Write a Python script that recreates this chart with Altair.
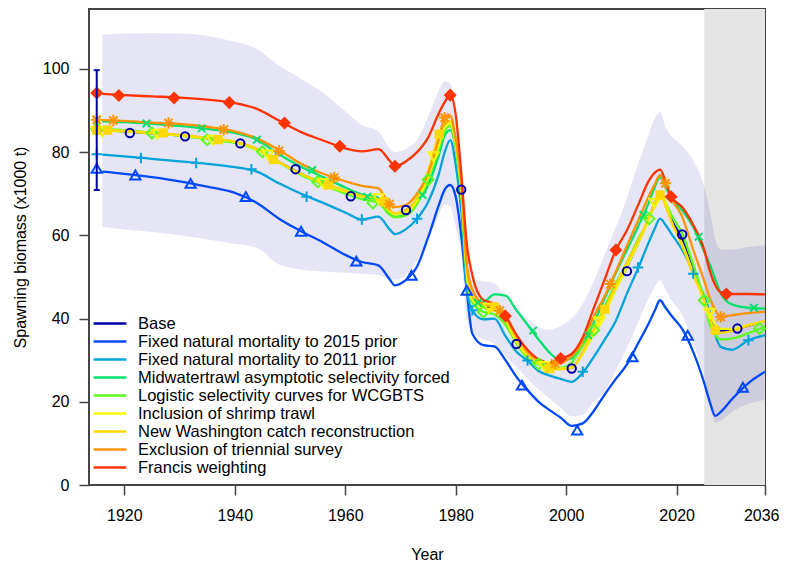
import altair as alt
import pandas as pd

# ---------------- data ----------------
models = ["Base", "Fixed natural mortality to 2015 prior", "Fixed natural mortality to 2011 prior",
          "Midwatertrawl asymptotic selectivity forced", "Logistic selectivity curves for WCGBTS",
          "Inclusion of shrimp trawl", "New Washington catch reconstruction",
          "Exclusion of triennial survey", "Francis weighting"]
colors = ["#0000A6", "#0049FB", "#00A4DB", "#03E06E", "#5DFC20",
          "#F6F905", "#FFD701", "#FF9400", "#FF3300"]

years = [1916, 1920, 1925, 1930, 1935, 1940,
         1944, 1948, 1952, 1956, 1960,
         1963, 1966, 1968, 1969, 1971,
         1973, 1975, 1977, 1978, 1979,
         1980, 1981, 1982, 1983, 1985,
         1987, 1989, 1991, 1993, 1995,
         1997, 1999, 2001, 2003, 2005,
         2007, 2009, 2011, 2013, 2015,
         2016, 2017, 2018, 2019, 2021,
         2023, 2025, 2026, 2027, 2028,
         2030, 2033, 2036]

ssb_base = [85.3, 85.0, 84.5, 84.0, 83.3, 82.4,
            80.7, 77.6, 74.8, 72.5, 70.6,
            69.4, 68.6, 66.0, 65.2, 66.1,
            68.6, 74.6, 83.0, 86.5, 87.2,
            82.5, 71.0, 51.5, 45.0, 42.8,
            42.3, 39.6, 34.4, 31.2, 29.2,
            28.2, 27.9, 28.2, 31.8, 37.0,
            41.9, 47.5, 52.5, 58.2, 64.2,
            67.6, 70.3, 67.6, 64.0, 59.0,
            51.5, 44.3, 40.5, 38.0, 37.0,
            37.3, 38.3, 39.4]
ssb_m2015 = [75.3, 74.8, 74.0, 73.0, 71.7, 70.2,
             67.8, 64.0, 61.0, 58.3, 55.3,
             53.6, 52.8, 49.5, 48.0, 49.3,
             52.5, 59.5, 67.5, 71.0, 72.1,
             69.3, 60.0, 46.8, 36.4, 33.6,
             33.3, 30.0, 26.0, 22.8, 20.0,
             18.0, 16.2, 14.2, 14.8, 17.8,
             21.8, 25.5, 29.0, 34.0, 39.0,
             41.8, 44.4, 42.6, 40.8, 37.5,
             32.0, 24.5, 20.0, 16.6, 17.6,
             20.6, 24.5, 27.2]
ssb_m2011 = [79.4, 79.0, 78.4, 77.8, 77.2, 76.4,
             75.3, 72.5, 70.0, 67.8, 65.5,
             63.8, 64.5, 61.5, 60.3, 61.5,
             64.0, 68.0, 75.0, 80.0, 82.9,
             77.0, 66.0, 47.0, 42.0, 39.8,
             40.0, 35.8, 32.0, 29.9, 27.4,
             26.3, 25.5, 24.8, 27.0, 30.8,
             35.0, 39.5, 46.0, 52.0, 58.5,
             61.5, 64.0, 62.5, 60.5, 56.5,
             51.2, 45.2, 41.5, 36.0, 33.2,
             32.5, 34.8, 36.0]
ssb_mid = [87.4, 87.2, 86.8, 86.3, 85.6, 84.6,
           83.0, 79.5, 76.5, 74.0, 71.5,
           69.8, 69.0, 65.5, 64.5, 65.0,
           68.0, 72.0, 79.5, 84.0, 85.3,
           81.0, 70.0, 51.0, 44.0, 44.0,
           45.8, 45.5, 42.0, 38.5, 35.0,
           31.8, 30.0, 30.4, 34.0, 39.0,
           45.0, 51.0, 56.5, 62.0, 68.0,
           71.5, 74.0, 71.5, 69.0, 66.0,
           62.0, 56.0, 53.0, 49.5, 46.0,
           43.4, 42.6, 42.4]
ssb_logis = [85.6, 85.3, 84.7, 84.0, 83.1, 82.2,
             80.5, 77.5, 74.5, 72.2, 70.0,
             68.7, 67.8, 65.0, 64.3, 64.8,
             67.5, 73.4, 81.0, 85.0, 86.3,
             81.0, 70.0, 50.0, 44.0, 41.6,
             41.0, 38.5, 34.0, 30.5, 29.0,
             28.3, 28.2, 29.5, 33.5, 37.2,
             43.0, 48.5, 53.5, 59.0, 64.0,
             67.5, 70.5, 68.0, 65.0, 60.5,
             53.0, 44.4, 38.5, 36.0, 35.0,
             35.2, 36.5, 38.0]
ssb_shrimp = [85.2, 85.0, 84.5, 84.0, 83.3, 82.4,
              80.6, 77.6, 74.8, 72.5, 70.5,
              69.3, 68.6, 65.8, 65.0, 65.5,
              68.3, 74.0, 82.0, 86.0, 87.0,
              82.0, 71.0, 51.0, 44.5, 42.6,
              42.0, 39.5, 34.5, 31.0, 29.3,
              28.3, 28.0, 28.3, 31.5, 36.5,
              41.5, 47.0, 52.5, 58.0, 64.0,
              67.7, 70.5, 68.0, 63.5, 58.0,
              51.0, 44.0, 41.3, 38.5, 37.5,
              37.5, 38.5, 39.3]
ssb_wash = [85.4, 85.1, 84.7, 84.2, 83.4, 82.5,
            80.8, 77.6, 74.8, 72.6, 70.8,
            69.5, 68.6, 66.2, 65.3, 66.0,
            69.0, 75.5, 84.3, 87.0, 87.5,
            83.0, 71.0, 52.0, 45.5, 43.2,
            42.8, 40.0, 35.0, 31.5, 29.2,
            28.0, 27.8, 28.2, 32.0, 37.5,
            42.2, 48.0, 53.5, 58.5, 64.5,
            67.5, 70.0, 67.0, 63.5, 57.5,
            50.5, 44.4, 40.0, 37.2, 36.6,
            37.0, 38.3, 39.5]
ssb_trien = [87.7, 87.5, 87.1, 86.8, 86.1, 85.0,
             83.3, 80.5, 77.2, 74.8, 73.0,
             71.9, 71.3, 67.5, 66.8, 67.3,
             70.0, 74.8, 83.5, 88.3, 88.8,
             83.0, 73.0, 53.0, 47.0, 43.5,
             42.8, 40.8, 36.0, 32.0, 30.0,
             29.3, 29.3, 31.0, 34.5, 40.5,
             45.5, 51.3, 57.5, 63.5, 69.5,
             72.2, 74.5, 72.5, 69.0, 64.5,
             56.5, 49.0, 45.0, 42.0, 40.4,
             40.8, 41.3, 41.6]
ssb_francis = [94.0, 93.7, 93.4, 93.1, 92.6, 91.8,
               90.4, 87.6, 84.8, 82.8, 80.9,
               80.2, 80.7, 78.0, 76.6, 77.8,
               80.0, 83.5, 89.5, 92.0, 93.7,
               89.0, 75.0, 58.0, 50.5, 44.5,
               43.5, 40.6, 36.0, 32.5, 30.2,
               29.4, 30.4, 31.5, 35.5, 42.5,
               49.5, 56.5, 61.2, 67.2, 73.2,
               75.0, 75.8, 73.0, 69.3, 66.8,
               62.5, 56.5, 51.5, 48.0, 46.3,
               45.9, 45.9, 45.8]

band_upper = [108.2, 108.5, 108.6, 108.5, 108.0, 106.5,
              104.8, 100.8, 97.6, 94.3, 89.8,
              86.5, 85.0, 81.0, 80.0, 80.8,
              83.0, 88.5, 95.0, 97.0, 96.5,
              90.0, 78.0, 56.0, 49.5, 49.0,
              48.5, 45.0, 42.5, 40.0, 38.0,
              37.3, 38.3, 40.0, 43.5, 49.0,
              55.5, 62.0, 69.0, 77.0, 84.5,
              88.0, 89.7, 86.0, 84.0, 81.5,
              78.0, 71.7, 66.0, 59.0, 56.6,
              56.6, 57.2, 57.6]
band_lower = [62.0, 61.4, 60.8, 60.0, 59.0, 58.0,
              57.0, 53.0, 51.8, 51.3, 51.0,
              50.8, 50.5, 49.5, 49.3, 50.5,
              54.0, 59.0, 65.0, 67.5, 67.0,
              62.0, 55.0, 40.0, 37.0, 35.0,
              34.0, 31.0, 28.4, 25.5, 23.0,
              20.8, 18.5, 16.5, 16.8, 20.0,
              22.5, 27.5, 33.0, 39.0, 45.0,
              47.5, 49.2, 47.0, 44.5, 41.0,
              34.0, 26.0, 19.5, 15.0, 15.5,
              17.5, 19.5, 20.5]

# marker positions (1915 = unfished equilibrium)
mk_years_base = [1915, 1921, 1931, 1941, 1951, 1961, 1971, 1981, 1991, 2001, 2011, 2021, 2031]
mk_base = [85.4, 84.6, 83.8, 82.1, 75.9, 69.4, 66.1, 71.0, 33.9, 28.0, 51.4, 60.2, 37.6]
mk_years_m2015 = [1915, 1922, 1932, 1942, 1952, 1962, 1972, 1982, 1992, 2002, 2012, 2022, 2032]
mk_m2015 = [76.1, 74.5, 72.5, 69.3, 61.0, 53.8, 50.4, 46.8, 24.0, 13.2, 30.8, 36.0, 23.5]
mk_years_m2011 = [1915, 1923, 1933, 1943, 1953, 1963, 1973, 1983, 1993, 2003, 2013, 2023, 2033]
mk_m2011 = [79.5, 78.6, 77.4, 75.9, 69.3, 63.8, 64.0, 42.0, 29.9, 27.2, 52.3, 50.8, 34.8]
mk_years_mid = [1915, 1924, 1934, 1944, 1954, 1964, 1974, 1984, 1994, 2004, 2014, 2024, 2034]
mk_mid = [87.7, 86.9, 85.7, 83.0, 75.7, 69.3, 69.7, 43.8, 37.1, 36.0, 64.9, 59.7, 42.6]
mk_years_logis = [1915, 1925, 1935, 1945, 1955, 1965, 1975, 1985, 1995, 2005, 2015, 2025, 2035]
mk_logis = [85.6, 84.6, 83.0, 80.1, 72.9, 67.8, 73.4, 41.6, 29.1, 37.2, 64.0, 44.4, 37.6]
mk_years_shrimp = [1915, 1916, 1926, 1936, 1946, 1956, 1966, 1976, 1986, 1996, 2006, 2016, 2026]
mk_shrimp = [85.0, 84.9, 84.3, 82.9, 79.3, 72.5, 68.8, 78.9, 42.5, 28.5, 39.2, 67.7, 41.3]
mk_years_wash = [1915, 1917, 1927, 1937, 1947, 1957, 1967, 1977, 1987, 1997, 2007, 2017, 2027]
mk_wash = [85.3, 85.3, 84.6, 83.0, 78.2, 72.1, 68.1, 84.3, 42.8, 28.0, 42.2, 69.7, 37.2]
mk_years_trien = [1915, 1918, 1928, 1938, 1948, 1958, 1968, 1978, 1988, 1998, 2008, 2018, 2028]
mk_trien = [87.8, 87.6, 87.0, 85.4, 80.3, 73.9, 67.5, 88.3, 41.9, 29.2, 48.3, 72.5, 40.4]
mk_years_francis = [1915, 1919, 1929, 1939, 1949, 1959, 1969, 1979, 1989, 1999, 2009, 2019, 2029]
mk_francis = [94.2, 93.6, 93.0, 91.9, 87.0, 81.4, 76.6, 93.7, 40.6, 30.4, 56.5, 69.3, 45.9]

virgin_year = [1915]
virgin_ci_lo = [70.9]
virgin_ci_hi = [99.7]

forecast_start = [2025]
forecast_end = [2036]

x_ticks = [1920, 1940, 1960, 1980, 2000, 2020, 2036]
y_ticks = [0, 20, 40, 60, 80, 100]
x_domain = [1913.6, 2036]
y_domain = [0, 114.4]

# ---------------- styling ----------------
PLOT_W, PLOT_H = 676, 476
FONT = "Liberation Sans"
series = [ssb_base, ssb_m2015, ssb_m2011, ssb_mid, ssb_logis, ssb_shrimp, ssb_wash, ssb_trien, ssb_francis]
marker_years = [mk_years_base, mk_years_m2015, mk_years_m2011, mk_years_mid, mk_years_logis,
                mk_years_shrimp, mk_years_wash, mk_years_trien, mk_years_francis]
marker_vals = [mk_base, mk_m2015, mk_m2011, mk_mid, mk_logis, mk_shrimp, mk_wash, mk_trien, mk_francis]
PLUS = "M-1,0L1,0M0,-1L0,1"
XMARK = "M-0.75,-0.75L0.75,0.75M-0.75,0.75L0.75,-0.75"
AST = "M-1,0L1,0M0,-1L0,1M-0.72,-0.72L0.72,0.72M-0.72,0.72L0.72,-0.72"
shapes = ["circle", "triangle-up", PLUS, XMARK, "diamond", "triangle-down", "square", AST, "diamond"]
filled = [False, False, False, False, False, False, True, False, True]
sizes = [70, 105, 110, 100, 120, 105, 85, 130, 170]

x_axis = alt.Axis(values=x_ticks, format="d", title="Year", titleX=PLOT_W / 2, titleY=74,
                  titleBaseline="alphabetic", titleAlign="center", labelPadding=12,
                  labelFlush=True, labelFlushOffset=14)
y_axis = alt.Axis(values=y_ticks, format="d", title="Spawning biomass (x1000 t)", titleX=-69,
                  titleY=PLOT_H / 2, titleAngle=-90, titleAlign="center", titleBaseline="middle",
                  labelPadding=10, labelFlush=False)


def xe(field="year"):
    return alt.X(f"{field}:Q", scale=alt.Scale(domain=x_domain, nice=False, zero=False), axis=x_axis)


def ye(field="value"):
    return alt.Y(f"{field}:Q", scale=alt.Scale(domain=y_domain, nice=False, zero=True), axis=y_axis)


legend = alt.Legend(title=None, orient="none", legendX=11.5, legendY=305, padding=0,
                    symbolType="M-2.05,0H2.05", symbolSize=256, symbolStrokeWidth=2.5,
                    labelFont=FONT, labelFontSize=16.5, labelColor="black", labelLimit=0,
                    labelOffset=18.5, rowPadding=0)
color_enc = alt.Color("model:N", scale=alt.Scale(domain=models, range=colors), legend=legend)

# ---------------- layers ----------------
forecast_df = pd.DataFrame({"year": forecast_start, "year_end": forecast_end,
                            "value": [y_domain[0]], "value_hi": [y_domain[1]]})
gray = alt.Chart(forecast_df).mark_rect(color="#E5E5E5").encode(
    x=xe(), x2="year_end:Q", y=ye(), y2="value_hi:Q")

band_df = pd.DataFrame({"year": years, "lower": band_lower, "upper": band_upper})
band = alt.Chart(band_df).mark_area(color=colors[0], opacity=0.1, interpolate="monotone").encode(
    x=xe(), y=ye("lower"), y2="upper:Q")

layers = [gray, band]
for name, vals in zip(models, series):
    df = pd.DataFrame({"year": years, "value": vals, "model": name})
    layers.append(alt.Chart(df).mark_line(strokeWidth=2.3, interpolate="monotone").encode(
        x=xe(), y=ye(), color=color_enc))

for name, col, shp, fil, sz, yrs, vals in zip(models, colors, shapes, filled, sizes, marker_years, marker_vals):
    df = pd.DataFrame({"year": yrs, "value": vals})
    layers.append(alt.Chart(df).mark_point(shape=shp, filled=fil, color=col, size=sz,
                                           strokeWidth=2, opacity=1).encode(x=xe(), y=ye()))

ci_df = pd.DataFrame({"year": virgin_year, "value": virgin_ci_lo, "hi": virgin_ci_hi})
ci_rule = alt.Chart(ci_df).mark_rule(color=colors[0], strokeWidth=2).encode(x=xe(), y=ye(), y2="hi:Q")
cap_df = pd.DataFrame({"year": virgin_year * 2, "value": virgin_ci_lo + virgin_ci_hi})
ci_caps = alt.Chart(cap_df).mark_point(shape="M-1,0L1,0", size=36, color=colors[0], strokeWidth=2,
                                       opacity=1).encode(x=xe(), y=ye())
layers += [ci_rule, ci_caps]

chart = alt.layer(*layers).properties(
    width=PLOT_W, height=PLOT_H,
    autosize=alt.AutoSizeParams(type="none"),
    padding={"left": 81, "top": 1, "right": 14, "bottom": 76},
).configure_view(stroke="#444444", strokeWidth=2).configure_axis(
    domain=False, grid=False, tickColor="#444444", tickWidth=1.5, tickSize=10,
    labelFont=FONT, labelFontSize=16, labelColor="black",
    titleFont=FONT, titleFontSize=16, titleFontWeight="normal", titleColor="black",
)

chart.save("out.html", embed_options={"renderer": "svg", "actions": False})
